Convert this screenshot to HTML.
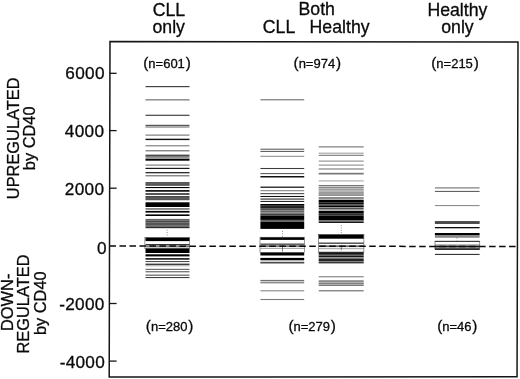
<!DOCTYPE html>
<html><head><meta charset="utf-8"><title>CD40 regulated genes</title>
<style>
html,body{margin:0;padding:0;background:#fff}
body{width:520px;height:379px;overflow:hidden}
svg{display:block}
text{font-family:"Liberation Sans",Arial,Helvetica,sans-serif;fill:#0a0a0a;stroke:#0a0a0a;stroke-width:0.3px}
</style></head><body>
<svg width="520" height="379" viewBox="0 0 520 379">
<rect width="520" height="379" fill="#fff"/>
<g shape-rendering="geometricPrecision">
<rect x="145.5" y="86.00" width="44.0" height="1.20" fill="#444444"/>
<rect x="145.5" y="99.30" width="44.0" height="1.10" fill="#646464"/>
<rect x="145.5" y="114.70" width="44.0" height="1.20" fill="#444444"/>
<rect x="145.5" y="124.80" width="44.0" height="1.10" fill="#484848"/>
<rect x="145.5" y="126.47" width="44.0" height="1.05" fill="#686868"/>
<rect x="145.5" y="134.57" width="44.0" height="1.05" fill="#6c6c6c"/>
<rect x="145.5" y="138.70" width="44.0" height="1.40" fill="#0f0f0f"/>
<rect x="145.5" y="145.28" width="44.0" height="1.05" fill="#707070"/>
<rect x="145.5" y="150.28" width="44.0" height="1.05" fill="#5c5c5c"/>
<rect x="145.5" y="154.70" width="44.0" height="1.10" fill="#101010"/>
<rect x="145.5" y="155.80" width="44.0" height="2.00" fill="#7d7d7d"/>
<rect x="145.5" y="158.60" width="44.0" height="2.10" fill="#000000"/>
<rect x="145.5" y="164.57" width="44.0" height="1.05" fill="#707070"/>
<rect x="145.5" y="167.80" width="44.0" height="1.20" fill="#181818"/>
<rect x="145.5" y="172.10" width="44.0" height="1.20" fill="#181818"/>
<rect x="145.5" y="175.28" width="44.0" height="1.05" fill="#5c5c5c"/>
<rect x="145.5" y="182.28" width="44.0" height="1.05" fill="#181818"/>
<rect x="145.5" y="183.30" width="44.0" height="1.30" fill="#3c3c3c"/>
<rect x="145.5" y="184.57" width="44.0" height="1.05" fill="#181818"/>
<rect x="145.5" y="187.00" width="44.0" height="1.10" fill="#000000"/>
<rect x="145.5" y="190.10" width="44.0" height="1.60" fill="#000000"/>
<rect x="145.5" y="193.30" width="44.0" height="1.40" fill="#0f0f0f"/>
<rect x="145.5" y="196.07" width="44.0" height="1.05" fill="#383838"/>
<rect x="145.5" y="197.00" width="44.0" height="2.10" fill="#5a5a5a"/>
<rect x="145.5" y="199.10" width="44.0" height="1.10" fill="#444444"/>
<rect x="145.5" y="202.30" width="44.0" height="4.70" fill="#000000"/>
<rect x="145.5" y="208.40" width="44.0" height="1.10" fill="#303030"/>
<rect x="145.5" y="210.90" width="44.0" height="1.70" fill="#000000"/>
<rect x="145.5" y="214.40" width="44.0" height="1.60" fill="#000000"/>
<rect x="145.5" y="218.90" width="44.0" height="1.50" fill="#606060"/>
<rect x="145.5" y="220.40" width="44.0" height="2.20" fill="#484848"/>
<rect x="145.5" y="222.60" width="44.0" height="3.10" fill="#555555"/>
<rect x="145.5" y="225.70" width="44.0" height="1.10" fill="#464646"/>
<rect x="145.5" y="227.00" width="44.0" height="1.20" fill="#2d2d2d"/>
<rect x="145.5" y="237.60" width="44.0" height="3.50" fill="#000000"/>
<rect x="145.5" y="244.07" width="44.0" height="1.05" fill="#282828"/>
<rect x="145.5" y="245.40" width="44.0" height="1.50" fill="#696969"/>
<rect x="145.5" y="247.00" width="44.0" height="1.30" fill="#cdcdcd"/>
<rect x="145.5" y="248.40" width="44.0" height="4.60" fill="#000000"/>
<rect x="145.5" y="254.30" width="44.0" height="2.10" fill="#000000"/>
<rect x="145.5" y="258.10" width="44.0" height="1.60" fill="#151515"/>
<rect x="145.5" y="261.03" width="44.0" height="1.05" fill="#484848"/>
<rect x="145.5" y="263.60" width="44.0" height="1.40" fill="#3c3c3c"/>
<rect x="145.5" y="265.00" width="44.0" height="1.40" fill="#bebebe"/>
<rect x="145.5" y="268.80" width="44.0" height="1.10" fill="#606060"/>
<rect x="145.5" y="271.00" width="44.0" height="1.40" fill="#7d7d7d"/>
<rect x="145.5" y="274.50" width="44.0" height="1.40" fill="#787878"/>
<rect x="145.5" y="277.03" width="44.0" height="1.05" fill="#3c3c3c"/>
<rect x="260.4" y="99.27" width="43.8" height="1.05" fill="#686868"/>
<rect x="260.4" y="148.67" width="43.8" height="1.05" fill="#585858"/>
<rect x="260.4" y="150.88" width="43.8" height="1.05" fill="#585858"/>
<rect x="260.4" y="155.78" width="43.8" height="1.05" fill="#8c8c8c"/>
<rect x="260.4" y="167.97" width="43.8" height="1.05" fill="#3c3c3c"/>
<rect x="260.4" y="173.07" width="43.8" height="1.05" fill="#585858"/>
<rect x="260.4" y="176.00" width="43.8" height="1.50" fill="#121212"/>
<rect x="260.4" y="186.50" width="43.8" height="1.50" fill="#393939"/>
<rect x="260.4" y="190.17" width="43.8" height="1.05" fill="#808080"/>
<rect x="260.4" y="193.00" width="43.8" height="1.20" fill="#585858"/>
<rect x="260.4" y="195.97" width="43.8" height="1.05" fill="#0c0c0c"/>
<rect x="260.4" y="198.53" width="43.8" height="1.05" fill="#202020"/>
<rect x="260.4" y="200.92" width="43.8" height="1.05" fill="#282828"/>
<rect x="260.4" y="204.00" width="43.8" height="1.70" fill="#000000"/>
<rect x="260.4" y="205.70" width="43.8" height="1.40" fill="#2a2a2a"/>
<rect x="260.4" y="207.10" width="43.8" height="1.50" fill="#0c0c0c"/>
<rect x="260.4" y="208.60" width="43.8" height="1.70" fill="#545454"/>
<rect x="260.4" y="210.30" width="43.8" height="2.10" fill="#696969"/>
<rect x="260.4" y="212.40" width="43.8" height="1.30" fill="#707070"/>
<rect x="260.4" y="213.70" width="43.8" height="1.30" fill="#303030"/>
<rect x="260.4" y="214.78" width="43.8" height="1.05" fill="#808080"/>
<rect x="260.4" y="215.60" width="43.8" height="4.30" fill="#000000"/>
<rect x="260.4" y="220.00" width="43.8" height="1.50" fill="#636363"/>
<rect x="260.4" y="221.60" width="43.8" height="7.30" fill="#000000"/>
<rect x="260.4" y="237.30" width="43.8" height="2.60" fill="#000000"/>
<rect x="260.4" y="243.60" width="43.8" height="1.10" fill="#202020"/>
<rect x="260.4" y="245.30" width="43.8" height="1.60" fill="#696969"/>
<rect x="260.4" y="247.83" width="43.8" height="1.05" fill="#a0a0a0"/>
<rect x="260.4" y="252.50" width="43.8" height="3.00" fill="#000000"/>
<rect x="260.4" y="257.90" width="43.8" height="2.40" fill="#000000"/>
<rect x="260.4" y="261.83" width="43.8" height="1.05" fill="#202020"/>
<rect x="260.4" y="262.52" width="43.8" height="1.05" fill="#606060"/>
<rect x="260.4" y="279.90" width="43.8" height="1.10" fill="#707070"/>
<rect x="260.4" y="281.60" width="43.8" height="1.80" fill="#8c8c8c"/>
<rect x="260.4" y="290.28" width="43.8" height="1.05" fill="#808080"/>
<rect x="260.4" y="298.98" width="43.8" height="1.05" fill="#787878"/>
<rect x="318.7" y="146.38" width="45.0" height="1.05" fill="#6c6c6c"/>
<rect x="318.7" y="152.67" width="45.0" height="1.05" fill="#9c9c9c"/>
<rect x="318.7" y="154.78" width="45.0" height="1.05" fill="#707070"/>
<rect x="318.7" y="160.57" width="45.0" height="1.05" fill="#888888"/>
<rect x="318.7" y="164.57" width="45.0" height="1.05" fill="#888888"/>
<rect x="318.7" y="168.47" width="45.0" height="1.05" fill="#707070"/>
<rect x="318.7" y="172.80" width="45.0" height="1.70" fill="#787878"/>
<rect x="318.7" y="180.38" width="45.0" height="1.05" fill="#a4a4a4"/>
<rect x="318.7" y="185.00" width="45.0" height="10.60" fill="#cdcdcd"/>
<rect x="318.7" y="184.97" width="45.0" height="1.05" fill="#787878"/>
<rect x="318.7" y="187.17" width="45.0" height="1.05" fill="#7d7d7d"/>
<rect x="318.7" y="189.28" width="45.0" height="1.05" fill="#8c8c8c"/>
<rect x="318.7" y="191.67" width="45.0" height="1.05" fill="#878787"/>
<rect x="318.7" y="193.42" width="45.0" height="1.05" fill="#7d7d7d"/>
<rect x="318.7" y="194.78" width="45.0" height="1.05" fill="#828282"/>
<rect x="318.7" y="197.47" width="45.0" height="1.05" fill="#242424"/>
<rect x="318.7" y="199.70" width="45.0" height="2.90" fill="#000000"/>
<rect x="318.7" y="202.60" width="45.0" height="2.00" fill="#0f0f0f"/>
<rect x="318.7" y="204.60" width="45.0" height="1.40" fill="#505050"/>
<rect x="318.7" y="206.00" width="45.0" height="1.40" fill="#000000"/>
<rect x="318.7" y="208.33" width="45.0" height="1.05" fill="#000000"/>
<rect x="318.7" y="210.70" width="45.0" height="3.00" fill="#000000"/>
<rect x="318.7" y="213.70" width="45.0" height="1.90" fill="#303030"/>
<rect x="318.7" y="215.60" width="45.0" height="4.90" fill="#000000"/>
<rect x="318.7" y="220.50" width="45.0" height="1.10" fill="#787878"/>
<rect x="318.7" y="221.60" width="45.0" height="1.30" fill="#000000"/>
<rect x="318.7" y="234.50" width="45.0" height="4.20" fill="#000000"/>
<rect x="318.7" y="242.60" width="45.0" height="1.10" fill="#181818"/>
<rect x="318.7" y="245.30" width="45.0" height="1.80" fill="#696969"/>
<rect x="318.7" y="248.17" width="45.0" height="1.05" fill="#a0a0a0"/>
<rect x="318.7" y="252.10" width="45.0" height="2.70" fill="#141414"/>
<rect x="318.7" y="254.78" width="45.0" height="1.05" fill="#5f5f5f"/>
<rect x="318.7" y="255.80" width="45.0" height="1.60" fill="#141414"/>
<rect x="318.7" y="257.40" width="45.0" height="1.10" fill="#969696"/>
<rect x="318.7" y="258.50" width="45.0" height="2.60" fill="#232323"/>
<rect x="318.7" y="261.03" width="45.0" height="1.05" fill="#828282"/>
<rect x="318.7" y="262.00" width="45.0" height="1.40" fill="#373737"/>
<rect x="318.7" y="276.23" width="45.0" height="1.05" fill="#787878"/>
<rect x="318.7" y="280.60" width="45.0" height="5.10" fill="#bebebe"/>
<rect x="318.7" y="280.48" width="45.0" height="1.05" fill="#646464"/>
<rect x="318.7" y="282.83" width="45.0" height="1.05" fill="#787878"/>
<rect x="318.7" y="284.83" width="45.0" height="1.05" fill="#6e6e6e"/>
<rect x="318.7" y="290.28" width="45.0" height="1.05" fill="#606060"/>
<rect x="434.9" y="187.38" width="44.7" height="1.05" fill="#686868"/>
<rect x="434.9" y="190.88" width="44.7" height="1.05" fill="#585858"/>
<rect x="434.9" y="205.07" width="44.7" height="1.05" fill="#888888"/>
<rect x="434.9" y="221.28" width="44.7" height="1.05" fill="#101010"/>
<rect x="434.9" y="222.03" width="44.7" height="1.05" fill="#585858"/>
<rect x="434.9" y="222.72" width="44.7" height="1.05" fill="#202020"/>
<rect x="434.9" y="227.00" width="44.7" height="1.30" fill="#090909"/>
<rect x="434.9" y="233.00" width="44.7" height="2.20" fill="#000000"/>
<rect x="434.9" y="235.28" width="44.7" height="1.05" fill="#707070"/>
<rect x="434.9" y="236.47" width="44.7" height="1.05" fill="#4c4c4c"/>
<rect x="434.9" y="240.82" width="44.7" height="1.05" fill="#303030"/>
<rect x="434.9" y="244.57" width="44.7" height="1.05" fill="#606060"/>
<rect x="434.9" y="245.90" width="44.7" height="1.10" fill="#101010"/>
<rect x="434.9" y="247.30" width="44.7" height="1.80" fill="#515151"/>
<rect x="434.9" y="248.92" width="44.7" height="1.05" fill="#282828"/>
<rect x="434.9" y="253.88" width="44.7" height="1.05" fill="#282828"/>
<rect x="144.9" y="237.7" width="44.8" height="11.1" fill="none" stroke="#333" stroke-width="0.5"/>
<rect x="260.0" y="237.2" width="44.4" height="15.1" fill="none" stroke="#333" stroke-width="0.5"/>
<rect x="318.6" y="234.6" width="45.3" height="17.4" fill="none" stroke="#333" stroke-width="0.5"/>
<rect x="435.0" y="241.3" width="44.8" height="8.2" fill="none" stroke="#333" stroke-width="0.5"/>
<line x1="167.2" y1="229.8" x2="167.2" y2="236.6" stroke="#444" stroke-width="0.7" stroke-dasharray="0.8 1.6"/>
<line x1="282.5" y1="231.0" x2="282.5" y2="236.8" stroke="#444" stroke-width="0.7" stroke-dasharray="0.8 1.6"/>
<line x1="341.3" y1="225.0" x2="341.3" y2="234.0" stroke="#444" stroke-width="0.7" stroke-dasharray="0.8 1.6"/>
<line x1="457.0" y1="237.8" x2="457.0" y2="240.6" stroke="#444" stroke-width="0.7" stroke-dasharray="0.8 1.6"/>
<line x1="282.5" y1="244.7" x2="282.5" y2="251.6" stroke="#333" stroke-width="0.6"/>
<line x1="341.3" y1="245" x2="341.3" y2="250.2" stroke="#333" stroke-width="0.6"/>
</g>
<line x1="109.5" y1="246.05" x2="517.5" y2="246.5" stroke="#0a0a0a" stroke-width="1.5" stroke-dasharray="6.5 3.49"/>
<path d="M110.0 41.4 L518.0 42.1 L517.05 376.85 L109.2 377.0 Z" fill="none" stroke="#151515" stroke-width="1.5"/>
<line x1="109.5" y1="73.3" x2="116.6" y2="73.3" stroke="#151515" stroke-width="1.3"/>
<line x1="109.5" y1="130.6" x2="116.6" y2="130.6" stroke="#151515" stroke-width="1.3"/>
<line x1="109.5" y1="188.2" x2="116.6" y2="188.2" stroke="#151515" stroke-width="1.3"/>
<line x1="109.5" y1="303.5" x2="116.6" y2="303.5" stroke="#151515" stroke-width="1.3"/>
<line x1="109.5" y1="361.1" x2="116.6" y2="361.1" stroke="#151515" stroke-width="1.3"/>
<text x="104.8" y="79.3" font-size="17.2" letter-spacing="0.3" text-anchor="end">6000</text>
<text x="104.3" y="136.5" font-size="17.2" letter-spacing="0.3" text-anchor="end">4000</text>
<text x="104.3" y="195.3" font-size="17.2" letter-spacing="0.3" text-anchor="end">2000</text>
<text x="106.8" y="253.5" font-size="17.2" letter-spacing="0.3" text-anchor="end">0</text>
<text x="104.7" y="310.2" font-size="17.2" letter-spacing="0.3" text-anchor="end">-2000</text>
<text x="105.1" y="368.4" font-size="17.2" letter-spacing="0.3" text-anchor="end">-4000</text>
<text x="168.9" y="15.7" font-size="17.7" text-anchor="middle">CLL</text>
<text x="168.7" y="32.6" font-size="17.7" text-anchor="middle">only</text>
<text x="316.7" y="15.2" font-size="17.7" text-anchor="middle">Both</text>
<text x="279.0" y="32.6" font-size="17.7" text-anchor="middle">CLL</text>
<text x="339.6" y="32.6" font-size="17.7" text-anchor="middle">Healthy</text>
<text x="457.4" y="15.8" font-size="17.7" text-anchor="middle">Healthy</text>
<text x="457.5" y="33.1" font-size="17.7" text-anchor="middle">only</text>
<text x="167.0" y="68.2" text-anchor="middle"><tspan font-size="15.3">(</tspan><tspan font-size="13">n=601</tspan><tspan font-size="15.3" dx="0.8">)</tspan></text>
<text x="317.3" y="68.2" text-anchor="middle"><tspan font-size="15.3">(</tspan><tspan font-size="13">n=974</tspan><tspan font-size="15.3" dx="0.8">)</tspan></text>
<text x="455.0" y="68.2" text-anchor="middle"><tspan font-size="15.3">(</tspan><tspan font-size="13">n=215</tspan><tspan font-size="15.3" dx="0.8">)</tspan></text>
<text x="169.6" y="330.9" text-anchor="middle"><tspan font-size="15.3">(</tspan><tspan font-size="13">n=280</tspan><tspan font-size="15.3" dx="0.8">)</tspan></text>
<text x="312.2" y="330.9" text-anchor="middle"><tspan font-size="15.3">(</tspan><tspan font-size="13">n=279</tspan><tspan font-size="15.3" dx="0.8">)</tspan></text>
<text x="457.3" y="330.9" text-anchor="middle"><tspan font-size="15.3">(</tspan><tspan font-size="13">n=46</tspan><tspan font-size="15.3" dx="0.8">)</tspan></text>
<text transform="translate(19.4 138.3) rotate(-90)" font-size="16.4" text-anchor="middle">UPREGULATED</text>
<text transform="translate(35.1 138.3) rotate(-90)" font-size="16.4" text-anchor="middle">by CD40</text>
<text transform="translate(12.8 302.3) rotate(-90)" font-size="16.4" text-anchor="middle">DOWN-</text>
<text transform="translate(28.6 304.0) rotate(-90)" font-size="16.4" text-anchor="middle">REGULATED</text>
<text transform="translate(45.9 303.2) rotate(-90)" font-size="16.4" text-anchor="middle">by CD40</text>
</svg>
</body></html>
